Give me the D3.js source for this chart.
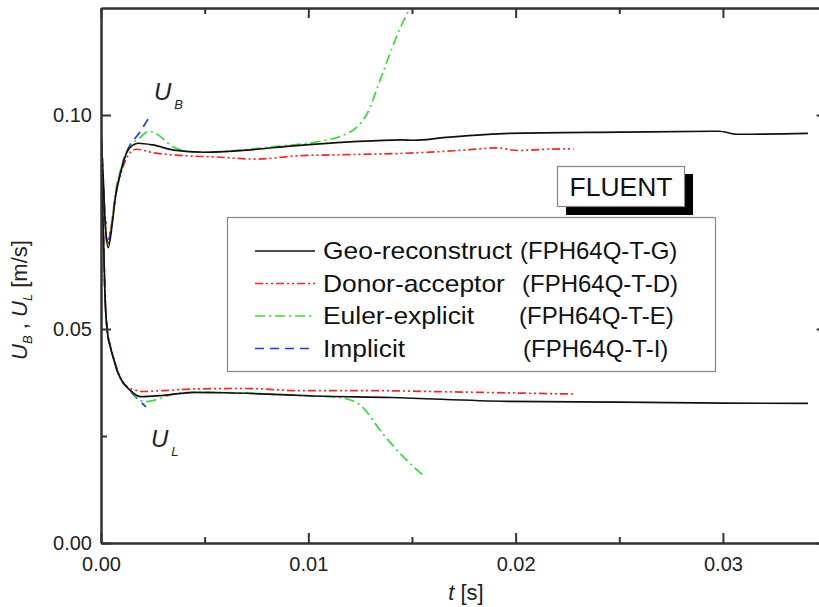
<!DOCTYPE html>
<html lang="en">
<head>
<meta charset="utf-8">
<script src="https://cdn.jsdelivr.net/npm/d3@7/dist/d3.min.js"></script>
<style>
	body { margin: 0; background: #fff; }
	svg { font-family: "Liberation Sans", Arial, sans-serif; }
	.axis path, .axis line { stroke: #333; stroke-width: 2; }
	.axis text { font-size: 20px; fill: #222; }
</style>
</head>
<body>
<svg id="chart" width="819" height="607"></svg>
<script>
// [t (s), U (m/s)]
var geoUB = [[0,0.096],[0.0001,0.086],[0.0002,0.075],[0.00035,0.069],[0.0005,0.073],[0.0007,0.081],[0.001,0.0875],[0.0013,0.0918],[0.0018,0.0934],[0.0025,0.093],[0.0035,0.0918],[0.005,0.0913],[0.007,0.0918],[0.0093,0.0928],[0.012,0.0937],[0.0145,0.0942],[0.0151,0.0941],[0.0165,0.0947],[0.0197,0.0957],[0.025,0.096],[0.0298,0.0962],[0.0307,0.0955],[0.0341,0.0957]];
var geoUL = [[0,0.096],[0.0001,0.075],[0.0002,0.057],[0.0003,0.0495],[0.00045,0.0458],[0.0006,0.0432],[0.0008,0.04],[0.001,0.038],[0.0014,0.0357],[0.0019,0.0342],[0.003,0.0345],[0.0045,0.0352],[0.006,0.0351],[0.008,0.0348],[0.01,0.0344],[0.014,0.034],[0.0196,0.0331],[0.025,0.0329],[0.03,0.0327],[0.0341,0.0326]];

var donorUB = [[0,0.096],[0.0001,0.085],[0.0002,0.075],[0.00035,0.07],[0.0005,0.074],[0.0007,0.081],[0.001,0.087],[0.0013,0.0905],[0.0017,0.092],[0.0025,0.0912],[0.004,0.0905],[0.0055,0.0902],[0.0075,0.0897],[0.0096,0.0905],[0.0125,0.0908],[0.0154,0.0912],[0.0175,0.0918],[0.0191,0.0923],[0.0201,0.0917],[0.0215,0.092],[0.0228,0.0921]];
var donorUL = [[0,0.096],[0.0001,0.075],[0.0002,0.057],[0.0003,0.05],[0.00045,0.046],[0.0006,0.0433],[0.0008,0.0402],[0.001,0.0378],[0.0013,0.0364],[0.0016,0.0358],[0.002,0.0354],[0.003,0.0356],[0.0045,0.036],[0.007,0.0361],[0.0096,0.0356],[0.013,0.0356],[0.017,0.0353],[0.0228,0.0348]];

var eulerUB = [[0,0.095],[0.0001,0.085],[0.0002,0.074],[0.00035,0.07],[0.0005,0.074],[0.0007,0.082],[0.001,0.088],[0.0014,0.0925],[0.0019,0.0948],[0.0023,0.0962],[0.0027,0.0955],[0.0035,0.0925],[0.0045,0.0913],[0.006,0.0915],[0.0085,0.0927],[0.0105,0.0938],[0.0117,0.0953],[0.0123,0.097],[0.0128,0.1],[0.0136,0.11],[0.0144,0.12],[0.0152,0.1275]];
var eulerUL = [[0,0.095],[0.0001,0.075],[0.0002,0.057],[0.0003,0.0495],[0.00045,0.0458],[0.0006,0.0432],[0.0008,0.04],[0.001,0.038],[0.0014,0.0357],[0.0021,0.033],[0.0027,0.0335],[0.0035,0.0348],[0.0045,0.0352],[0.007,0.035],[0.0095,0.0345],[0.0115,0.034],[0.0125,0.0322],[0.0136,0.0255],[0.0146,0.02],[0.0155,0.016]];

var implicitUB = [[0,0.097],[0.0001,0.086],[0.0002,0.075],[0.0003,0.07],[0.0005,0.074],[0.0007,0.081],[0.001,0.088],[0.0014,0.093],[0.0018,0.0955],[0.0023,0.0993]];
var implicitUL = [[0,0.097],[0.0001,0.075],[0.0002,0.057],[0.0003,0.05],[0.00045,0.046],[0.0006,0.0432],[0.0008,0.04],[0.001,0.038],[0.0014,0.0355],[0.0018,0.0335],[0.00217,0.0318]];

var seriesNames = ["Geo-reconstruct", "Donor-acceptor", "Euler-explicit", "Implicit"];
var seriesCodes = ["(FPH64Q-T-G)", "(FPH64Q-T-D)", "(FPH64Q-T-E)", "(FPH64Q-T-I)"];
var seriesColors = ["#111111", "#ff2222", "#33e033", "#2233ff"];
var seriesDashes = [null, "8,3,2,3,2,3", "10,4,2,4", "9,6"];
var seriesData = [[geoUB, geoUL], [donorUB, donorUL], [eulerUB, eulerUL], [implicitUB, implicitUL]];

var xTicks = [0, 0.01, 0.02, 0.03];
var xMinor = [0.005, 0.015, 0.025];
var yTicks = [0, 0.05, 0.10];
var yMinor = [0.025, 0.075];

var svg = d3.select("#chart");
var margin = {top: 8, left: 101, bottom: 64};
var height = +svg.attr("height") - margin.top - margin.bottom;

var x = d3.scaleLinear().domain([0, 0.035]).range([0, 725.6]);
var y = d3.scaleLinear().domain([0, 0.125]).range([height, 0]);
var width = x(0.035);

var g = svg.append("g")
	.attr("transform", "translate(" + margin.left + "," + margin.top + ")");

g.append("clipPath").attr("id", "plot-clip")
	.append("rect").attr("width", width).attr("height", height);

// lines
var line = d3.line()
	.x(function(d){ return x(d[0]) })
	.y(function(d){ return y(d[1]) })
	.curve(d3.curveMonotoneX);

var lines = g.append("g").attr("clip-path", "url(#plot-clip)");
for (var i = seriesData.length - 1; i >= 0; i--) {
	seriesData[i].forEach(function(branch) {
		lines.append("path")
			.datum(branch)
			.attr("d", line)
			.attr("fill", "none")
			.attr("stroke", seriesColors[i])
			.attr("stroke-width", 1.7)
			.attr("stroke-dasharray", seriesDashes[i]);
	});
}

// axes, ticks pointing inward
function fmt2(d) { return d3.format(".2f")(d) }
g.append("g").attr("class", "axis")
	.attr("transform", "translate(0," + height + ")")
	.call(d3.axisBottom(x).tickValues(xTicks).tickFormat(fmt2).tickSizeInner(-10).tickSizeOuter(0).tickPadding(14));
g.append("g").attr("class", "axis")
	.attr("transform", "translate(0," + height + ")")
	.call(d3.axisBottom(x).tickValues(xMinor).tickFormat("").tickSizeInner(-6).tickSizeOuter(0));
g.append("g").attr("class", "axis")
	.call(d3.axisTop(x).tickValues(xTicks).tickFormat("").tickSizeInner(-10).tickSizeOuter(0));
g.append("g").attr("class", "axis")
	.call(d3.axisTop(x).tickValues(xMinor).tickFormat("").tickSizeInner(-6).tickSizeOuter(0));

g.append("g").attr("class", "axis")
	.call(d3.axisLeft(y).tickValues(yTicks).tickFormat(fmt2).tickSizeInner(-10).tickSizeOuter(0).tickPadding(9));
g.append("g").attr("class", "axis")
	.call(d3.axisLeft(y).tickValues(yMinor).tickFormat("").tickSizeInner(-6).tickSizeOuter(0));
g.append("g").attr("class", "axis")
	.attr("transform", "translate(" + width + ",0)")
	.call(d3.axisRight(y).tickValues(yTicks).tickFormat("").tickSizeInner(-10).tickSizeOuter(0));
g.append("g").attr("class", "axis")
	.attr("transform", "translate(" + width + ",0)")
	.call(d3.axisRight(y).tickValues(yMinor).tickFormat("").tickSizeInner(-6).tickSizeOuter(0));

// axis titles
var xt = svg.append("text")
	.attr("x", 466).attr("y", 600)
	.attr("text-anchor", "middle")
	.style("font-size", "22px").attr("fill", "#222");
xt.append("tspan").style("font-style", "italic").text("t");
xt.append("tspan").text(" [s]");

var yt = svg.append("text")
	.attr("transform", "translate(27,300) rotate(-90)")
	.attr("text-anchor", "middle")
	.style("font-size", "22px").attr("fill", "#222");
yt.append("tspan").style("font-style", "italic").text("U");
yt.append("tspan").style("font-style", "italic").style("font-size", "13px").attr("dy", 5).text("B");
yt.append("tspan").attr("dy", -5).text(" , ");
yt.append("tspan").style("font-style", "italic").text("U");
yt.append("tspan").style("font-style", "italic").style("font-size", "13px").attr("dy", 5).text("L");
yt.append("tspan").attr("dy", -5).text(" [m/s]");

// branch labels
function branchLabel(px, py, sub) {
	var t = svg.append("text").attr("x", px).attr("y", py)
		.style("font-size", "24px").style("font-style", "italic").attr("fill", "#222");
	t.append("tspan").text("U");
	t.append("tspan").style("font-size", "13px").attr("dx", 3).attr("dy", 9).text(sub);
}
branchLabel(154, 100, "B");
branchLabel(151, 447, "L");

// FLUENT tag with shadow
svg.append("rect").attr("x", 566).attr("y", 174).attr("width", 127).attr("height", 41).attr("fill", "#000");
svg.append("rect").attr("x", 557.5).attr("y", 166.5).attr("width", 127).attr("height", 40)
	.attr("fill", "#fff").attr("stroke", "#888").attr("stroke-width", 1.2);
svg.append("text").attr("transform", "translate(621,196) scale(1.06,1)").attr("text-anchor", "middle")
	.style("font-size", "25px").attr("fill", "#111").text("FLUENT");

// legend
var legend = svg.append("g");
legend.append("rect").attr("x", 227.5).attr("y", 217.5).attr("width", 488).attr("height", 154)
	.attr("fill", "#fff").attr("stroke", "#888").attr("stroke-width", 1.2);
var codeX = [520, 522, 519, 523];
seriesNames.forEach(function(name, i) {
	var base = 259 + i * 32.5;
	legend.append("line")
		.attr("x1", 255).attr("x2", 315)
		.attr("y1", base - 8).attr("y2", base - 8)
		.attr("stroke", seriesColors[i]).attr("stroke-width", 1.7)
		.attr("stroke-dasharray", seriesDashes[i]);
	legend.append("text").attr("transform", "translate(323," + base + ") scale(1.1,1)")
		.style("font-size", "24px").attr("fill", "#111").text(name);
	legend.append("text").attr("x", codeX[i]).attr("y", base)
		.style("font-size", "24px").attr("fill", "#111").text(seriesCodes[i]);
});
</script>
</body>
</html>
